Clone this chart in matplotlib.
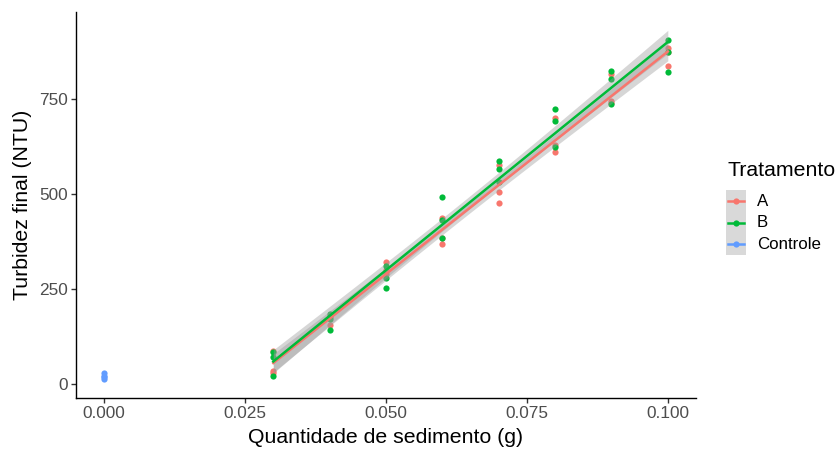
import numpy as np
import matplotlib
matplotlib.use("Agg")
import matplotlib.pyplot as plt
from matplotlib.patches import Rectangle

plt.rcParams['font.family'] = ['Liberation Sans', 'DejaVu Sans']

# ---- data ----
x_levels = [0.03, 0.04, 0.05, 0.06, 0.07, 0.08, 0.09, 0.10]
turb_A = [[88, 34, 30], [180, 176, 155], [320, 300, 290], [437, 385, 368],
          [576, 506, 475], [701, 630, 611], [816, 746, 740], [883, 875, 837]]
turb_B = [[84, 71, 20], [184, 170, 142], [311, 280, 252], [493, 431, 383],
          [588, 567, 532], [724, 693, 624], [824, 803, 737], [905, 873, 820]]
control_x = [0.0, 0.0, 0.0, 0.0]
control_y = [12, 18, 22, 28]

groups = ["A", "B", "Controle"]
colors = {"A": "#F8766D", "B": "#00BA38", "Controle": "#619CFF"}
x_ticks = [0.000, 0.025, 0.050, 0.075, 0.100]
x_ticklabels = ["0.000", "0.025", "0.050", "0.075", "0.100"]
y_ticks = [0, 250, 500, 750]
t_crit = 2.074  # t(0.975, df=22)

fig = plt.figure(figsize=(8.35, 4.59), dpi=100)
ax = fig.add_axes([76/835, 1-398/459, (696-76)/835, (398-12)/459])


def flatten(levels, vals):
    xs, ys = [], []
    for xv, vv in zip(levels, vals):
        for v in vv:
            xs.append(xv)
            ys.append(v)
    return np.array(xs), np.array(ys, dtype=float)


series = {"A": flatten(x_levels, turb_A), "B": flatten(x_levels, turb_B)}

PT_S = 20
for g in ["A", "B"]:
    xs, ys = series[g]
    ax.scatter(xs, ys, s=PT_S, color=colors[g], zorder=2, linewidths=0)
ax.scatter(control_x, control_y, s=PT_S, color=colors["Controle"], zorder=2, linewidths=0)

for g in ["A", "B"]:
    xs, ys = series[g]
    n = len(xs)
    b, a = np.polyfit(xs, ys, 1)
    resid = ys - (a + b * xs)
    s = np.sqrt(np.sum(resid**2) / (n - 2))
    xm = xs.mean()
    sxx = np.sum((xs - xm)**2)
    xg = np.linspace(xs.min(), xs.max(), 80)
    yg = a + b * xg
    se = s * np.sqrt(1/n + (xg - xm)**2 / sxx)
    ax.fill_between(xg, yg - t_crit*se, yg + t_crit*se, color="#999999",
                    alpha=0.4, linewidth=0, zorder=3)
    ax.plot(xg, yg, color=colors[g], lw=1.8, zorder=4)

ax.set_xlim(-0.005, 0.105)
ax.set_ylim(-37, 979)
ax.set_xticks(x_ticks)
ax.set_xticklabels(x_ticklabels)
ax.set_yticks(y_ticks)
for sp in ["top", "right"]:
    ax.spines[sp].set_visible(False)
for sp in ["left", "bottom"]:
    ax.spines[sp].set_linewidth(1.0)
    ax.spines[sp].set_color("black")
ax.tick_params(axis="both", length=3.5, width=1.0, color="#333333",
               labelsize=12.4, labelcolor="#4D4D4D", pad=2.5)
ax.set_xlabel("Quantidade de sedimento (g)", fontsize=15.3, color="black", labelpad=5)
ax.set_ylabel("Turbidez final (NTU)", fontsize=15.3, color="black", labelpad=5)

# ---- legend (manual, ggplot style) ----
fig.text(727/835, 1-170/459, "Tratamento", fontsize=15.3, ha="left", va="center")
key_x0, key_x1 = 726, 746
centers = [201, 222.5, 244]
for g, cy in zip(groups, centers):
    lx = fig.add_axes([key_x0/835, 1-(cy+10.75)/459, (key_x1-key_x0)/835, 21.5/459])
    lx.set_xlim(0, 1)
    lx.set_ylim(0, 1)
    lx.axis("off")
    lx.add_patch(Rectangle((0, 0), 1, 1, color="#D9D9D9", lw=0))
    lx.plot([0.1, 0.9], [0.5, 0.5], color=colors[g], lw=1.8)
    lx.scatter([0.5], [0.5], s=PT_S, color=colors[g], linewidths=0, zorder=3)
    fig.text(757/835, 1-cy/459, g, fontsize=12.2, ha="left", va="center")

fig.savefig("out.png", dpi=100)
